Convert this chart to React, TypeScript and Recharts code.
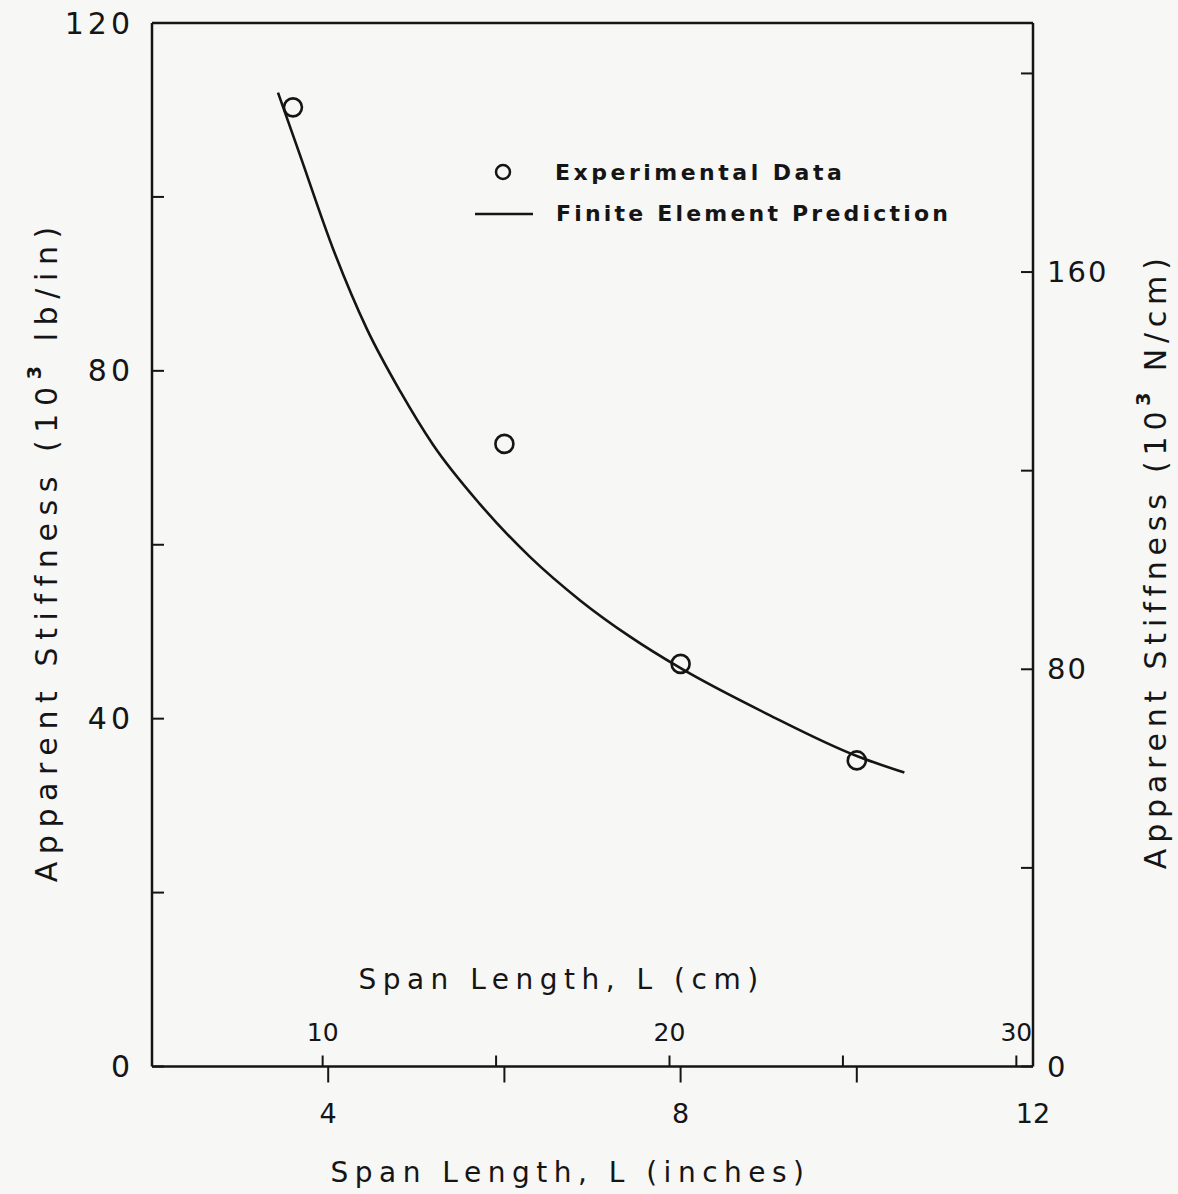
import React from 'react';
import { ComposedChart, Line, Scatter, XAxis, YAxis, Legend } from 'recharts';

// ---- data ----
const inchTicks = [4, 6, 8, 10, 12];
const inchLabels = [4, 8, 12];
const cmTicks = [10, 15, 20, 25, 30];
const cmLabels = [10, 20, 30];
const lbTicks = [0, 20, 40, 60, 80, 100, 120];
const lbLabels = [0, 40, 80, 120];
const nTicks = [0, 40, 80, 120, 160, 200];
const nLabels = [0, 80, 160];

const experimentalSpan = [3.6, 6, 8, 10];
const experimentalStiffness = [110.3, 71.6, 46.3, 35.2];

const predictionSpan = [3.43, 3.68, 4.06, 4.44, 4.82, 5.19, 5.72, 6.29, 6.86, 7.43, 8.0, 8.99, 10.0, 10.54];
const predictionStiffness = [112.0, 104.8, 93.9, 84.8, 77.6, 71.5, 64.7, 58.6, 53.6, 49.4, 45.8, 40.5, 35.7, 33.8];

const IN_TO_CM = 2.54;
const LBIN_TO_NCM = 1.7513;

const expData = experimentalSpan.map((x, i) => ({ x, y: experimentalStiffness[i] }));
const predData = predictionSpan.map((x, i) => ({ x, y: predictionStiffness[i] }));
// same experimental points expressed in centimetres (drives the metric span axis)
const expDataCm = experimentalSpan.map((x, i) => ({ xCm: x * IN_TO_CM, y: experimentalStiffness[i] }));

const FONT = '"DejaVu Sans", "Liberation Sans", sans-serif';
const INK = '#151515';

const LeftTick = (p: any) => {
  const v = p.payload.value;
  return (
    <g>
      <line x1={p.x} x2={p.x + 12} y1={p.y} y2={p.y} stroke={INK} strokeWidth={2} />
      {lbLabels.includes(v) && (
        <text x={p.x - 18} y={p.y} textAnchor="end" dominantBaseline="central" fontFamily={FONT} fontSize={30} letterSpacing={4} fill={INK}>
          {v}
        </text>
      )}
    </g>
  );
};

const RightTick = (p: any) => {
  const v = p.payload.value;
  return (
    <g>
      <line x1={p.x} x2={p.x - 12} y1={p.y} y2={p.y} stroke={INK} strokeWidth={2} />
      {nLabels.includes(v) && (
        <text x={p.x + 14} y={p.y} textAnchor="start" dominantBaseline="central" fontFamily={FONT} fontSize={29} letterSpacing={2} fill={INK}>
          {v}
        </text>
      )}
    </g>
  );
};

const InchTick = (p: any) => {
  const v = p.payload.value;
  return (
    <g>
      {v !== 12 && <line x1={p.x} x2={p.x} y1={p.y} y2={p.y + 16} stroke={INK} strokeWidth={2} />}
      {inchLabels.includes(v) && (
        <text x={p.x} y={p.y + 56} textAnchor="middle" fontFamily={FONT} fontSize={27} fill={INK}>
          {v}
        </text>
      )}
    </g>
  );
};

const CmTick = (p: any) => {
  const v = p.payload.value;
  return (
    <g>
      <line x1={p.x} x2={p.x} y1={p.y} y2={p.y - 11} stroke={INK} strokeWidth={2} />
      {cmLabels.includes(v) && (
        <text x={p.x} y={p.y - 26} textAnchor="middle" fontFamily={FONT} fontSize={25} fill={INK}>
          {v}
        </text>
      )}
    </g>
  );
};

const yTitleStyle = { fontFamily: FONT, fontSize: 30, fill: INK } as const;
const xTitleStyle = { fontFamily: FONT, fontSize: 28, letterSpacing: 6.5, fill: INK } as const;

const LeftTitle = (props: any) => {
  const vb = props.viewBox || {};
  const cx = 38;
  const cy = vb.y + vb.height / 2 + 6;
  return (
    <text x={cx} y={cy} transform={`rotate(-90 ${cx} ${cy})`} textAnchor="middle" dominantBaseline="central" letterSpacing={7.6} {...yTitleStyle}>
      <tspan>Apparent Stiffness  (10</tspan>
      <tspan dy={-12} fontSize={19} fontWeight="bold">3</tspan>
      <tspan dy={12}> lb/in)</tspan>
    </text>
  );
};

const RightTitle = (props: any) => {
  const vb = props.viewBox || {};
  const cx = 1147;
  const cy = vb.y + vb.height / 2 + 16;
  return (
    <text x={cx} y={cy} transform={`rotate(-90 ${cx} ${cy})`} textAnchor="middle" dominantBaseline="central" letterSpacing={5.8} {...yTitleStyle}>
      <tspan>Apparent Stiffness  (10</tspan>
      <tspan dy={-12} fontSize={19} fontWeight="bold">3</tspan>
      <tspan dy={12}> N/cm)</tspan>
    </text>
  );
};

const InchTitle = (props: any) => {
  const vb = props.viewBox || {};
  return (
    <text x={vb.x + vb.width / 2 - 22} y={vb.y + 115} textAnchor="middle" {...xTitleStyle}>
      Span Length, L  (inches)
    </text>
  );
};

const CmTitle = (props: any) => {
  const vb = props.viewBox || {};
  return (
    <text x={vb.x + vb.width / 2 - 31} y={vb.y - 77} textAnchor="middle" {...xTitleStyle}>
      Span Length, L  (cm)
    </text>
  );
};

const LegendBox = () => (
  <svg width={520} height={100} style={{ display: 'block' }}>
    <circle cx={43} cy={32} r={7} fill="none" stroke={INK} strokeWidth={2.5} />
    <text x={95} y={40} fontFamily={FONT} fontSize={22} fontWeight="bold" letterSpacing={3.5} fill={INK}>
      Experimental Data
    </text>
    <line x1={15} x2={73} y1={74} y2={74} stroke={INK} strokeWidth={2.5} />
    <text x={96} y={81} fontFamily={FONT} fontSize={22} fontWeight="bold" letterSpacing={3.2} fill={INK}>
      Finite Element Prediction
    </text>
  </svg>
);

const ExpDot = (p: any) => (
  <circle cx={p.cx} cy={p.cy} r={9} fill="none" stroke={INK} strokeWidth={2.6} />
);

const NoDot = () => <g />;

export default function App() {
  return (
    <div style={{ position: 'absolute', left: 0, top: 0, width: 1178, height: 1194, background: '#f7f7f5' }}>
      <div style={{ position: 'absolute', left: 8, top: 0 }}>
        <ComposedChart width={1170} height={1194} margin={{ top: 23, right: 0, bottom: 0, left: 0 }}>
          <XAxis
            xAxisId="cm"
            dataKey="xCm"
            type="number"
            orientation="bottom"
            mirror
            height={0.01}
            domain={[2 * IN_TO_CM, 12 * IN_TO_CM]}
            ticks={cmTicks}
            interval={0}
            tickSize={0}
            tickMargin={0}
            tickLine={false}
            axisLine={false}
            tick={(p: any) => <CmTick {...p} />}
            allowDataOverflow
            label={{ content: (p: any) => <CmTitle {...p} /> }}
          />
          <XAxis
            xAxisId="in"
            dataKey="x"
            type="number"
            domain={[2, 12]}
            ticks={inchTicks}
            interval={0}
            height={127.5}
            tickSize={0}
            tickMargin={0}
            tickLine={false}
            tick={(p: any) => <InchTick {...p} />}
            axisLine={{ stroke: INK, strokeWidth: 2.5 }}
            allowDataOverflow
            label={{ content: (p: any) => <InchTitle {...p} /> }}
          />
          <XAxis
            xAxisId="top"
            type="number"
            orientation="top"
            height={0.01}
            domain={[2, 12]}
            tick={false}
            tickLine={false}
            axisLine={{ stroke: INK, strokeWidth: 2.5 }}
            allowDataOverflow
          />
          <YAxis
            yAxisId="left"
            type="number"
            domain={[0, 120]}
            ticks={lbTicks}
            interval={0}
            width={144}
            tickSize={0}
            tickMargin={0}
            tickLine={false}
            tick={(p: any) => <LeftTick {...p} />}
            axisLine={{ stroke: INK, strokeWidth: 2.5 }}
            allowDataOverflow
            label={{ content: (p: any) => <LeftTitle {...p} /> }}
          />
          <YAxis
            yAxisId="right"
            orientation="right"
            type="number"
            domain={[0, 120 * LBIN_TO_NCM]}
            ticks={nTicks}
            interval={0}
            width={145}
            tickSize={0}
            tickMargin={0}
            tickLine={false}
            tick={(p: any) => <RightTick {...p} />}
            axisLine={{ stroke: INK, strokeWidth: 2.5 }}
            allowDataOverflow
            label={{ content: (p: any) => <RightTitle {...p} /> }}
          />
          <Legend
            layout="horizontal"
            verticalAlign="middle"
            align="center"
            wrapperStyle={{ position: 'absolute', left: 452, top: 140, width: 520, height: 100 }}
            content={() => <LegendBox />}
          />
          <Scatter
            xAxisId="cm"
            yAxisId="left"
            data={expDataCm}
            dataKey="y"
            shape={() => <NoDot />}
            isAnimationActive={false}
            legendType="none"
            name="metric"
          />
          <Line
            xAxisId="in"
            yAxisId="left"
            data={predData}
            dataKey="y"
            type="monotone"
            stroke={INK}
            strokeWidth={2.6}
            dot={false}
            activeDot={false}
            isAnimationActive={false}
            name="Finite Element Prediction"
          />
          <Scatter
            xAxisId="in"
            yAxisId="left"
            data={expData}
            dataKey="y"
            shape={(p: any) => <ExpDot {...p} />}
            isAnimationActive={false}
            name="Experimental Data"
          />
        </ComposedChart>
      </div>
    </div>
  );
}
